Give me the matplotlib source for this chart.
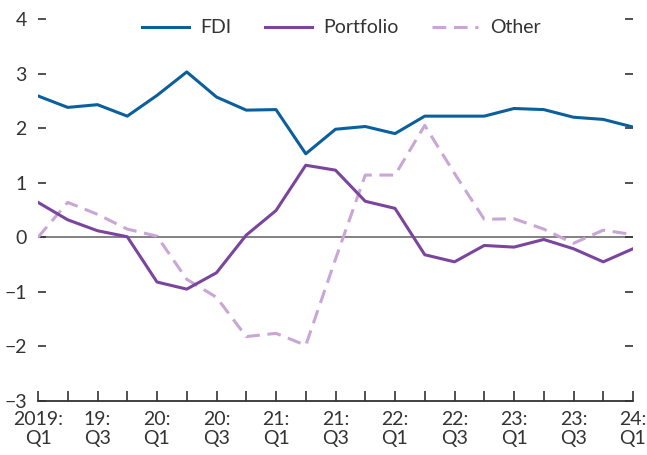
import numpy as np
import matplotlib.pyplot as plt

plt.rcParams['font.family'] = ['Lato', 'DejaVu Sans']

quarters = ['2019:\nQ1', '', '19:\nQ3', '', '20:\nQ1', '', '20:\nQ3', '', '21:\nQ1', '', '21:\nQ3', '',
            '22:\nQ1', '', '22:\nQ3', '', '23:\nQ1', '', '23:\nQ3', '', '24:\nQ1']

fdi = [2.59, 2.38, 2.43, 2.22, 2.60, 3.03, 2.57, 2.33, 2.34, 1.53, 1.98,
       2.03, 1.90, 2.22, 2.22, 2.22, 2.36, 2.34, 2.20, 2.16, 2.02]
portfolio = [0.64, 0.32, 0.12, 0.01, -0.82, -0.95, -0.65, 0.04, 0.49, 1.32, 1.23,
             0.66, 0.53, -0.32, -0.45, -0.15, -0.18, -0.04, -0.21, -0.45, -0.21]
other = [0.0, 0.64, 0.42, 0.15, 0.02, -0.77, -1.10, -1.82, -1.76, -1.98, -0.40,
         1.14, 1.14, 2.05, 1.17, 0.33, 0.34, 0.15, -0.11, 0.13, 0.05]

x = np.arange(len(quarters))
txt = '#333333'

fig = plt.figure(figsize=(6.47, 4.55), dpi=100)
ax = fig.add_axes([38 / 647, 1 - 401 / 455, 595 / 647, 382 / 455])

ax.axhline(0, color='#777777', lw=1.3, zorder=1)
ax.plot(x, fdi, color='#0B5F9C', lw=2.2, label='FDI', zorder=3)
ax.plot(x, portfolio, color='#7B459E', lw=2.2, label='Portfolio', zorder=3)
ax.plot(x, other, color='#C9A6D6', lw=2.2, ls=(0, (4.5, 2.5)), label='Other', zorder=2)

ax.set_xlim(0, len(x) - 1)
ax.set_ylim(-3, 4)
ax.set_yticks(range(-3, 5))
ax.set_yticklabels(['\u22123', '\u22122', '\u22121', '0', '1', '2', '3', '4'])
ax.set_xticks(x)
ax.set_xticklabels(quarters, linespacing=1.15)

for s in ['top', 'left', 'right']:
    ax.spines[s].set_visible(False)
ax.spines['bottom'].set_color(txt)
ax.spines['bottom'].set_linewidth(1.3)

ax.tick_params(axis='y', direction='in', length=6, width=1.2, color=txt,
               labelsize=14, labelcolor=txt, right=True, pad=8)
ax.tick_params(axis='x', direction='in', length=7, width=1.2, color=txt,
               labelsize=14, labelcolor=txt, pad=7)

ax.legend(loc='upper center', bbox_to_anchor=(0.51, 1.045), ncol=3, frameon=False,
          fontsize=14, labelcolor=txt, handlelength=2.4, columnspacing=1.7, handletextpad=0.6)

fig.savefig('out.png', dpi=100)
